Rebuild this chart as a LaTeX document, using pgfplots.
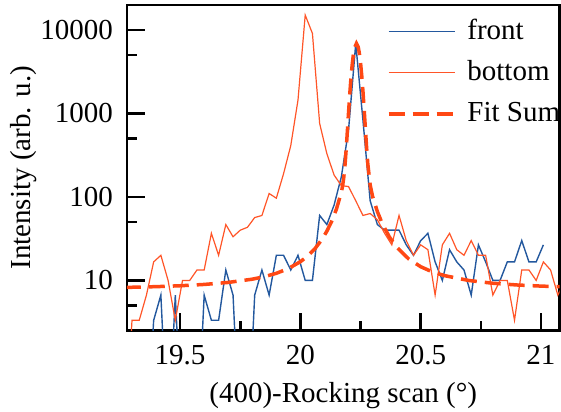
\documentclass[border=0pt]{standalone}
\usepackage{fontspec}
\setmainfont{Liberation Serif}
\usepackage{pgfplots}
\pgfplotsset{compat=1.18}
\definecolor{frontc}{RGB}{35,88,158}
\definecolor{botc}{RGB}{255,85,40}
\definecolor{fitc}{RGB}{255,72,20}
\begin{document}
\fontsize{29bp}{34bp}\selectfont
\begin{tikzpicture}
\begin{axis}[name=ax, scale only axis, width=432.5bp, height=325.5bp,
  ymode=log, xmin=19.2792, xmax=21.077, ymin=2.512, ymax=19950,
  xtick={19.5,20,20.5,21}, xticklabels={19.5,20,20.5,21},
  minor xtick={19.75,20.25,20.75},
  ytick={10,100,1000,10000}, yticklabels={10,100,1000,10000},
  minor ytick={5,50,500,5000},
  tick align=inside, xtick pos=left, ytick pos=left,
  major tick length=18bp, minor tick length=10bp,
  every tick/.style={black, line width=2.5bp},
  axis line style={line width=2.8bp},
  yticklabel style={inner sep=0pt, xshift=-14bp},
  xticklabel style={inner sep=0pt, yshift=-15bp},
  xlabel={(400)-Rocking scan (°)},
  ylabel={Intensity (arb. u.)},
  every axis x label/.style={at={(axis description cs:0.5,-0.2212)}, anchor=base},
  every axis y label/.style={at={(axis description cs:-0.2220,0.5)}, anchor=base, rotate=90},
  legend cell align=left,
  legend image code/.code={\draw[#1] (0bp,0bp) -- (66bp,0bp);},
  legend style={at={(axis description cs:0.6005,0.958)}, anchor=north west,
    draw=none, fill=none, inner sep=0pt, row sep=17bp,
    nodes={inner sep=0pt},
    /tikz/every odd column/.append style={column sep=11bp}},
]
\addplot[frontc, line width=1.4bp] coordinates {
(19.27,0.1) (19.30,0.1) (19.33,0.1) (19.36,0.1) (19.39,3.33) (19.42,6.67)
(19.45,0.1) (19.48,6.67) (19.51,0.1) (19.54,0.1) (19.57,0.1) (19.60,6.67)
(19.63,3.33) (19.66,3.33) (19.69,13.33) (19.72,6.67) (19.75,0.1) (19.78,0.1)
(19.81,6.67) (19.84,13.33) (19.87,6.67) (19.90,20) (19.93,20) (19.96,13.33)
(19.99,20) (20.02,10) (20.05,10) (20.08,60) (20.11,46.67) (20.14,80)
(20.17,173.3) (20.20,630) (20.23,6900) (20.26,830) (20.29,90) (20.32,46.67)
(20.35,40) (20.38,40) (20.41,40) (20.44,26.67) (20.47,20) (20.50,30)
(20.53,36.67) (20.56,16.67) (20.59,10) (20.62,23.33) (20.65,16.67) (20.68,13.33)
(20.71,6.67) (20.74,26.67) (20.77,16.67) (20.80,10) (20.83,10) (20.86,16.67)
(20.89,16.67) (20.92,30) (20.95,16.67) (20.98,16.67) (21.01,26.67)
};
\addlegendentry{front}
\addplot[botc, line width=1.2bp] coordinates {
(19.27,0.1) (19.30,3.33) (19.33,3.33) (19.36,6.67) (19.39,16.67) (19.42,20)
(19.45,10) (19.48,3.33) (19.51,10) (19.54,10) (19.57,13.33) (19.60,13.33)
(19.63,36.67) (19.66,20) (19.69,46.67) (19.72,33.33) (19.75,40) (19.78,43.33)
(19.81,56.67) (19.84,60) (19.87,110) (19.90,96.67) (19.93,190) (19.96,413.3)
(19.99,1450) (20.02,15100) (20.05,9100) (20.08,760) (20.11,330) (20.14,183.3)
(20.17,136.7) (20.20,133.3) (20.23,90) (20.26,60) (20.29,63.33) (20.32,53.33)
(20.35,36.67) (20.38,26.67) (20.41,60) (20.44,30) (20.47,20) (20.50,26.67)
(20.53,23.33) (20.56,6.67) (20.59,26.67) (20.62,36.67) (20.65,23.33) (20.68,20)
(20.71,30) (20.74,20) (20.77,20) (20.80,6.67) (20.83,10) (20.86,10)
(20.89,3.33) (20.92,13.33) (20.95,13.33) (20.98,10) (21.01,16.67) (21.04,13.33)
(21.07,6.67) (21.10,10)
};
\addlegendentry{bottom}
\addplot[fitc, line width=3.5bp, dash pattern=on 16bp off 8bp] coordinates {
(19.27,8.24) (19.40,8.42) (19.50,8.63) (19.60,8.95) (19.70,9.46) (19.80,10.35)
(19.85,11.09) (19.90,12.17) (19.95,13.87) (20.00,16.76) (20.03,19.57) (20.06,23.9)
(20.09,31.1) (20.11,38.9) (20.13,51.1) (20.15,71.9) (20.17,113.1) (20.175,133.9)
(20.18,168.8) (20.185,234) (20.19,361) (20.195,600) (20.20,1016) (20.205,1678)
(20.21,2618) (20.215,3788) (20.22,5041) (20.225,6130) (20.233,6913) (20.24,6305)
(20.245,5279) (20.25,4039) (20.255,2837) (20.26,1843) (20.265,1127) (20.27,666)
(20.275,398) (20.28,253) (20.29,139.3) (20.30,101.5) (20.32,66.7) (20.34,48.2)
(20.37,33.1) (20.40,25.1) (20.45,18.1) (20.50,14.6) (20.55,12.6) (20.60,11.4)
(20.70,9.98) (20.80,9.25) (20.90,8.82) (21.00,8.55) (21.10,8.36)
};
\addlegendentry{Fit Sum}
\end{axis}
\pgfresetboundingbox
\path (ax.south west) ++(-127bp,-81.5bp) rectangle ++(561bp,412bp);
\end{tikzpicture}
\end{document}
